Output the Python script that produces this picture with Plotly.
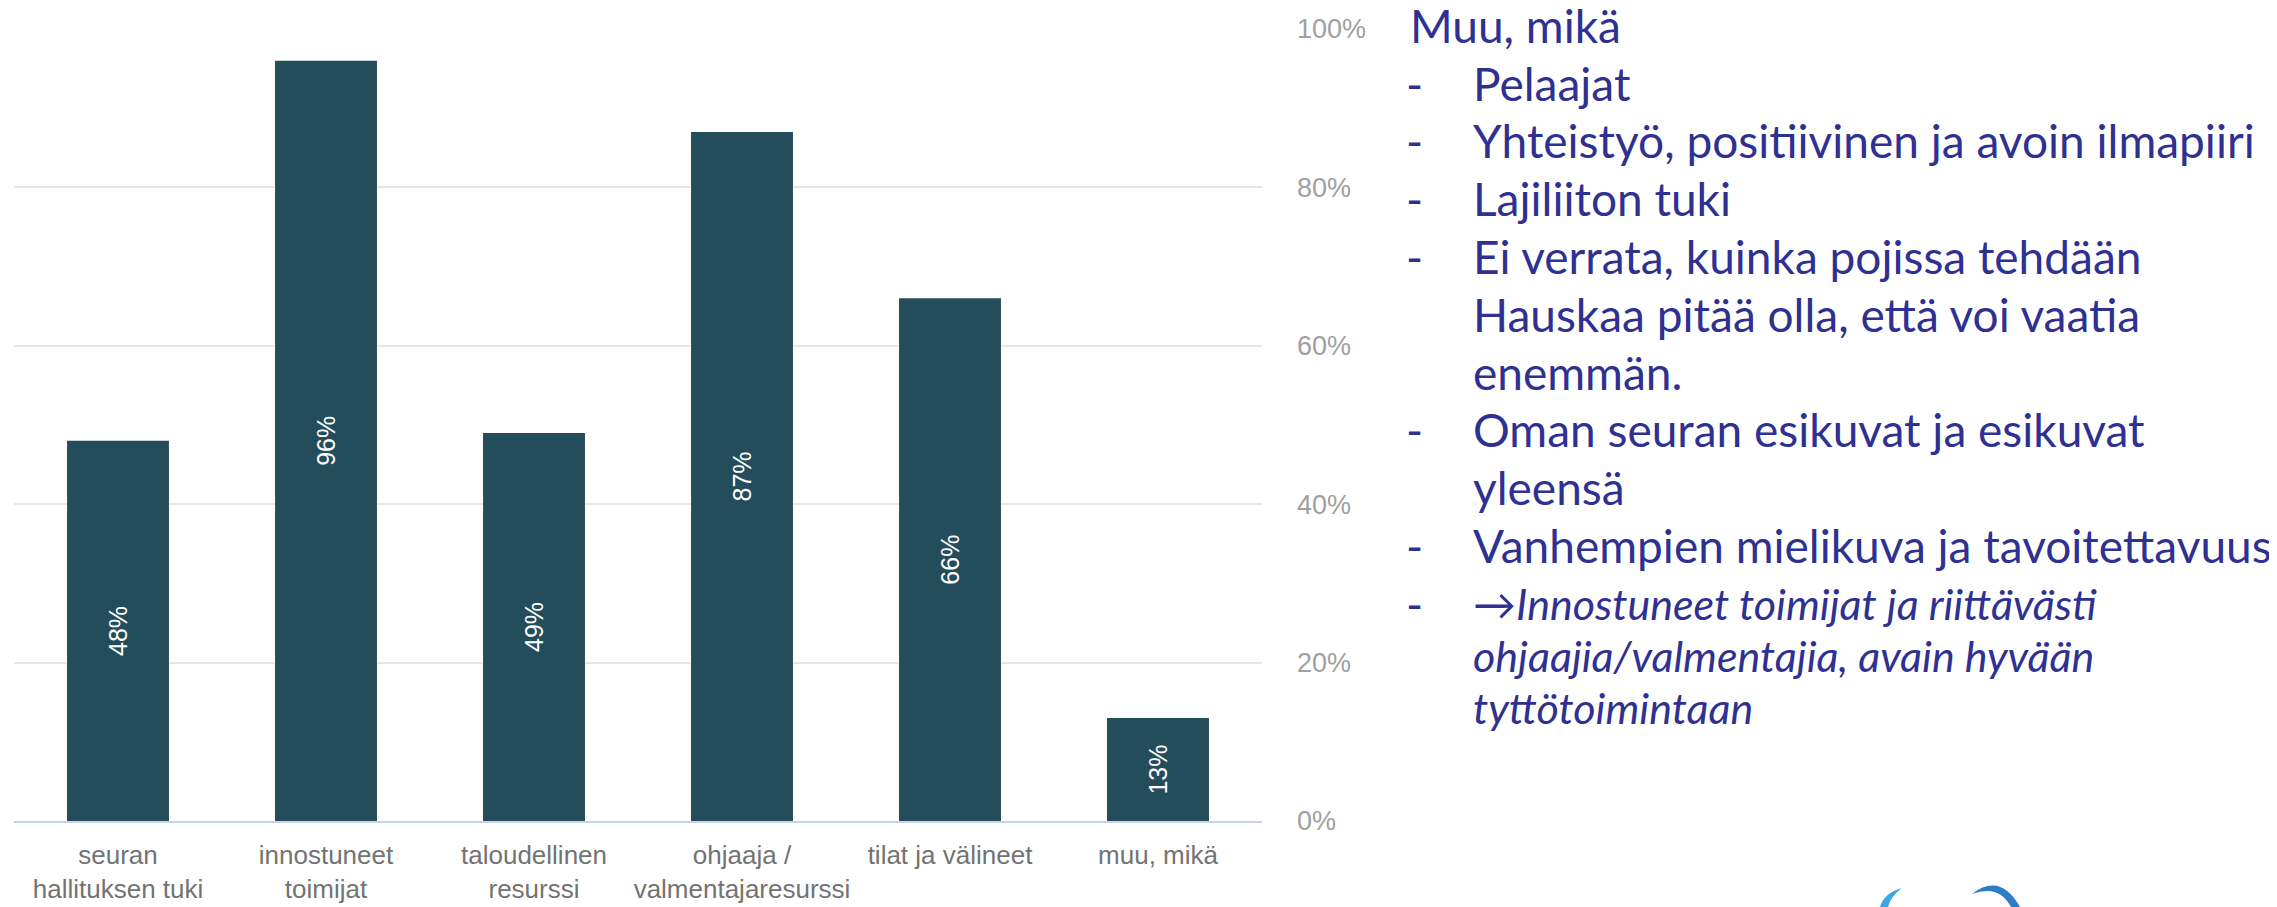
import plotly.graph_objects as go

categories = ["seuran<br>hallituksen tuki", "innostuneet<br>toimijat", "taloudellinen<br>resurssi",
              "ohjaaja /<br>valmentajaresurssi", "tilat ja välineet", "muu, mikä"]
values = [48, 96, 49, 87, 66, 13]
bar_labels = ["48%", "96%", "49%", "87%", "66%", "13%"]
y_ticks = [0, 20, 40, 60, 80, 100]
y_tick_labels = ["0%", "20%", "40%", "60%", "80%", "100%"]

heading = "Muu, mikä"
items = [
    ("-", "Pelaajat"),
    ("-", "Yhteistyö, positiivinen ja avoin ilmapiiri"),
    ("-", "Lajiliiton tuki"),
    ("-", "Ei verrata, kuinka pojissa tehdään"),
    ("", "Hauskaa pitää olla, että voi vaatia"),
    ("", "enemmän."),
    ("-", "Oman seuran esikuvat ja esikuvat"),
    ("", "yleensä"),
    ("-", "Vanhempien mielikuva ja tavoitettavuus"),
]
italic_items = [
    ("-", "→<i>Innostuneet toimijat ja riittävästi</i>"),
    ("", "<i>ohjaajia/valmentajia, avain hyvään</i>"),
    ("", "<i>tyttötoimintaan</i>"),
]

# page geometry (browser body has an 8px default margin)
PAGE_W, PAGE_H = 2277, 907
BODY = 8
W, H = PAGE_W - BODY, PAGE_H - BODY
# plot area in page pixels
L, R, T, B = 14, 1262, 29, 821

def px(x):
    return (x - L) / (R - L)

def py(y):
    return (B - y) / (B - T)

def path(points):
    cmds = []
    for cmd, pts in points:
        s = " ".join(f"{px(x):.5f},{py(y):.5f}" for x, y in pts)
        cmds.append(f"{cmd} {s}")
    return " ".join(cmds) + " Z"

TEXT_COLOR = "#2E3192"
TEXT_FONT = "Lato"
FS = 46
FS_I = 43

fig = go.Figure()
fig.add_trace(go.Bar(
    x=categories, y=values, text=bar_labels,
    textposition="inside", insidetextanchor="middle", textangle=-90,
    textfont=dict(family="Liberation Sans", size=25, color="white"),
    marker=dict(color="#234D5B", line=dict(width=0)),
    hoverinfo="skip",
))

annotations = []
def ann(x, y, text, size):
    annotations.append(dict(x=px(x), y=py(y), text=text, showarrow=False,
                            xanchor="left", yanchor="middle", xref="paper", yref="paper",
                            font=dict(family=TEXT_FONT, size=size, color=TEXT_COLOR)))

ann(1408, 25, heading, FS)
y0 = 83
step = 57.8
for i, (dash, txt) in enumerate(items):
    yy = y0 + i * step
    if dash:
        ann(1404, yy, dash, FS)
    ann(1471, yy, txt, FS)
yi = [603, 655, 707]
for (dash, txt), yy in zip(italic_items, yi):
    if dash:
        ann(1404, yy, dash, FS)
    ann(1471, yy, txt, FS_I)

shapes = [
    dict(type="path", xref="paper", yref="paper", layer="above",
         path=path([("M", [(1972, 894)]), ("Q", [(2000, 872), (2020, 907)]),
                    ("L", [(2011, 907)]), ("Q", [(1999, 884), (1972, 894)])]),
         fillcolor="#2F7CC6", line=dict(width=0)),
    dict(type="path", xref="paper", yref="paper", layer="above",
         path=path([("M", [(1880, 907)]), ("Q", [(1884, 893), (1902, 888)]),
                    ("Q", [(1891, 896), (1888, 907)])]),
         fillcolor="#3BA7DF", line=dict(width=0)),
]

fig.update_layout(
    width=W, height=H, autosize=False,
    margin=dict(l=L - BODY, r=W - (R - BODY), t=T - BODY, b=H - (B - BODY), pad=0),
    paper_bgcolor="white", plot_bgcolor="white",
    bargap=0.51, showlegend=False,
    annotations=annotations, shapes=shapes,
    xaxis=dict(showgrid=False, showline=True, linecolor="#C9D3EA", linewidth=2,
               automargin=False, ticks="", ticklabelstandoff=10,
               tickfont=dict(family="Liberation Sans", size=26, color="#737373"),
               fixedrange=True),
    yaxis=dict(side="right", range=[0, 100], tickvals=y_ticks, ticktext=y_tick_labels,
               showgrid=True, gridcolor="#E6E6E6", gridwidth=2, zeroline=False,
               automargin=False, showline=False, ticks="", ticklabelstandoff=34,
               tickfont=dict(family="Liberation Sans", size=27, color="#A0A0A0"),
               fixedrange=True),
)

fig.write_html("out.html", config={"displayModeBar": False},
               post_script="document.body.style.overflow='hidden';")
